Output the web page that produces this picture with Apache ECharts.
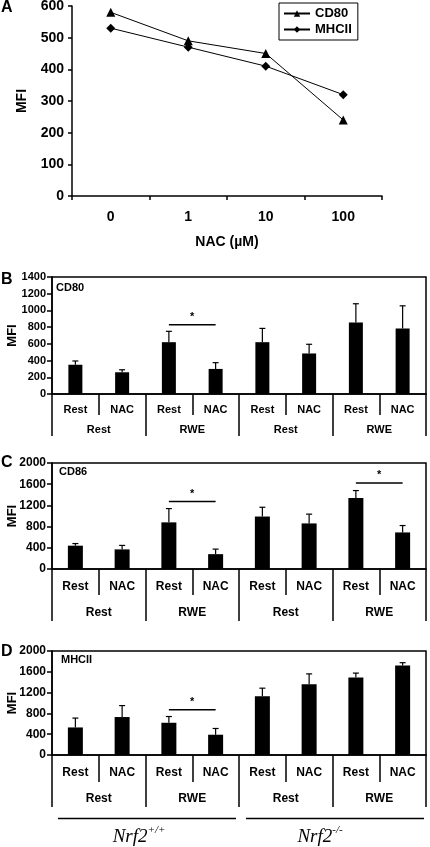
<!DOCTYPE html>
<html><head><meta charset="utf-8">
<script src="https://cdn.jsdelivr.net/npm/echarts@6/dist/echarts.min.js"></script>
<style>html,body{margin:0;padding:0;background:#fff}#c{width:430px;height:847px}</style>
</head><body><div id="c"></div>
<script>
// ---------- Data ----------
const nacDoses = ['0', '1', '10', '100'];
const cd80Dose = [580, 490, 450, 240];
const mhciiDose = [530, 470, 410, 320];

const treatments = ['Rest', 'NAC', 'Rest', 'NAC', 'Rest', 'NAC', 'Rest', 'NAC'];
const stimuli = ['Rest', 'RWE', 'Rest', 'RWE'];
const genotypeBase = ['Nrf2', 'Nrf2'];
const genotypeSup = ['+/+', '-/-'];

const cd80Mean = [350, 260, 620, 300, 620, 485, 855, 785];
const cd80Err = [45, 30, 130, 75, 165, 110, 225, 270];
const cd86Mean = [440, 370, 880, 280, 990, 860, 1340, 690];
const cd86Err = [40, 75, 260, 95, 175, 175, 140, 130];
const mhciiMean = [530, 730, 620, 390, 1130, 1360, 1490, 1720];
const mhciiErr = [180, 220, 120, 120, 155, 200, 85, 55];

// significance brackets: [fromIndex, toIndex, level]
const cd80Sig = [[2, 3, 830]];
const cd86Sig = [[2, 3, 1275], [6, 7, 1625]];
const mhciiSig = [[2, 3, 870]];

// y axis ranges: [min, max, interval]
const yRangeA = [0, 600, 100];
const yRangeB = [0, 1400, 200];
const yRangeC = [0, 2000, 400];
const yRangeD = [0, 2000, 400];

// ---------- Chart ----------
const FONT = 'Liberation Sans, Arial, sans-serif';
const chart = echarts.init(document.getElementById('c'), null, {renderer: 'canvas'});

function errRender(params, api) {
  const x = api.value(0), m = api.value(1), e = api.value(2);
  const p0 = api.coord([x, m]);
  const p1 = api.coord([x, m + e]);
  const cap = 3;
  return {type: 'group', children: [
    {type: 'line', shape: {x1: p0[0], y1: p0[1], x2: p1[0], y2: p1[1]}, style: {stroke: '#000', lineWidth: 1.2}},
    {type: 'line', shape: {x1: p1[0] - cap, y1: p1[1], x2: p1[0] + cap, y2: p1[1]}, style: {stroke: '#000', lineWidth: 1.2}}
  ]};
}
function sigRender(params, api) {
  const a = api.coord([api.value(0), api.value(2)]);
  const b = api.coord([api.value(1), api.value(2)]);
  return {type: 'group', children: [
    {type: 'line', shape: {x1: a[0], y1: a[1], x2: b[0], y2: b[1]}, style: {stroke: '#000', lineWidth: 1.5}},
    {type: 'text', x: (a[0] + b[0]) / 2, y: a[1] - 2, style: {text: '*', font: 'bold 11px ' + FONT, fill: '#000', align: 'center', verticalAlign: 'bottom'}}
  ]};
}

const axisLineStyle = {color: '#000', width: 1.5};
const plain = v => String(v);

function yAxisFor(grid, range, nameGap, labelSize, nameSize, tickLen, margin) {
  return {
    gridIndex: grid, type: 'value', min: range[0], max: range[1], interval: range[2],
    axisLine: {show: true, lineStyle: axisLineStyle},
    axisTick: {show: true, length: tickLen, lineStyle: axisLineStyle},
    axisLabel: {color: '#000', fontFamily: FONT, fontWeight: 'bold', fontSize: labelSize, margin: margin, formatter: plain},
    splitLine: {show: false},
    name: 'MFI', nameLocation: 'middle', nameGap: nameGap, nameMoveOverlap: false,
    nameTextStyle: {color: '#000', fontFamily: FONT, fontWeight: 'bold', fontSize: nameSize}
  };
}
function level1Axis(grid, tickLen, margin, fontSize) {
  return {
    gridIndex: grid, type: 'category', data: treatments, position: 'bottom',
    axisLine: {show: true, lineStyle: axisLineStyle},
    axisTick: {show: true, length: tickLen, interval: 0, lineStyle: axisLineStyle},
    axisLabel: {color: '#000', fontFamily: FONT, fontWeight: 'bold', fontSize: fontSize, margin: margin, interval: 0}
  };
}
function level2Axis(grid, offset, tickLen, margin, fontSize) {
  return {
    gridIndex: grid, type: 'category', data: stimuli, position: 'bottom', offset: offset,
    axisLine: {show: false},
    axisTick: {show: true, length: tickLen, interval: 0, lineStyle: axisLineStyle},
    axisLabel: {color: '#000', fontFamily: FONT, fontWeight: 'bold', fontSize: fontSize, margin: margin, interval: 0}
  };
}
function barSeries(xi, yi, data, w) {
  return {type: 'bar', xAxisIndex: xi, yAxisIndex: yi, data: data, barWidth: w,
    itemStyle: {color: '#000'}, silent: true, z: 2};
}
function errSeries(xi, yi, mean, err) {
  return {type: 'custom', xAxisIndex: xi, yAxisIndex: yi, renderItem: errRender,
    data: mean.map((m, i) => [i, m, err[i]]), encode: {x: 0, y: 1}, z: 3, silent: true};
}
function sigSeries(xi, yi, sig) {
  return {type: 'custom', xAxisIndex: xi, yAxisIndex: yi, renderItem: sigRender,
    data: sig, encode: {x: [0, 1], y: 2}, z: 3, silent: true};
}

const gridBox = {show: true, borderColor: '#000', borderWidth: 1.5, backgroundColor: 'transparent', outerBoundsMode: 'none'};

const option = {
  animation: false,
  backgroundColor: '#fff',
  grid: [
    {left: 72, top: 6, width: 310, height: 190, outerBoundsMode: 'none'},
    Object.assign({left: 52, top: 277, width: 374, height: 117}, gridBox),
    Object.assign({left: 52, top: 463, width: 374, height: 106}, gridBox),
    Object.assign({left: 52, top: 651, width: 374, height: 104}, gridBox)
  ],
  legend: {
    data: ['CD80', 'MHCII'], orient: 'vertical', left: 279, top: 3,
    borderColor: '#000', borderWidth: 1, padding: [4, 6, 4, 4], itemGap: 3,
    itemWidth: 26, itemHeight: 8,
    textStyle: {color: '#000', fontFamily: FONT, fontWeight: 'bold', fontSize: 13}
  },
  xAxis: [
    {gridIndex: 0, type: 'category', data: nacDoses,
      axisLine: {show: true, lineStyle: axisLineStyle},
      axisTick: {show: true, length: 4, lineStyle: axisLineStyle},
      axisLabel: {color: '#000', fontFamily: FONT, fontWeight: 'bold', fontSize: 14, margin: 14},
      name: 'NAC (µM)', nameLocation: 'middle', nameGap: 39,
      nameTextStyle: {color: '#000', fontFamily: FONT, fontWeight: 'bold', fontSize: 14}},
    level1Axis(1, 21, 10, 11),
    level2Axis(1, 21, 21, 9, 11),
    level1Axis(2, 26, 12, 12),
    level2Axis(2, 26, 26, 12, 12),
    level1Axis(3, 27, 12, 12),
    level2Axis(3, 27, 25, 11, 12)
  ],
  yAxis: [
    yAxisFor(0, yRangeA, 43, 14, 14, 4, 8),
    yAxisFor(1, yRangeB, 33, 11, 13, 5, 6),
    yAxisFor(2, yRangeC, 33, 12, 13, 5, 6),
    yAxisFor(3, yRangeD, 33, 12, 13, 5, 6)
  ],
  series: [
    {name: 'CD80', type: 'line', xAxisIndex: 0, yAxisIndex: 0, data: cd80Dose,
      symbol: 'triangle', symbolSize: 9, itemStyle: {color: '#000'}, lineStyle: {color: '#000', width: 1}},
    {name: 'MHCII', type: 'line', xAxisIndex: 0, yAxisIndex: 0, data: mhciiDose,
      symbol: 'diamond', symbolSize: 9, itemStyle: {color: '#000'}, lineStyle: {color: '#000', width: 1}},
    barSeries(1, 1, cd80Mean, 14), errSeries(1, 1, cd80Mean, cd80Err), sigSeries(1, 1, cd80Sig),
    barSeries(3, 2, cd86Mean, 15), errSeries(3, 2, cd86Mean, cd86Err), sigSeries(3, 2, cd86Sig),
    barSeries(5, 3, mhciiMean, 15), errSeries(5, 3, mhciiMean, mhciiErr), sigSeries(5, 3, mhciiSig)
  ],
  graphic: [
    {type: 'text', x: 1, y: 8, style: {text: 'A', font: 'bold 16px ' + FONT, fill: '#000', verticalAlign: 'middle'}},
    {type: 'text', x: 1, y: 280, style: {text: 'B', font: 'bold 16px ' + FONT, fill: '#000', verticalAlign: 'middle'}},
    {type: 'text', x: 1, y: 463, style: {text: 'C', font: 'bold 16px ' + FONT, fill: '#000', verticalAlign: 'middle'}},
    {type: 'text', x: 1, y: 652, style: {text: 'D', font: 'bold 16px ' + FONT, fill: '#000', verticalAlign: 'middle'}},
    {type: 'text', x: 56, y: 288, style: {text: 'CD80', font: 'bold 11px ' + FONT, fill: '#000', verticalAlign: 'middle'}},
    {type: 'text', x: 59, y: 472, style: {text: 'CD86', font: 'bold 11px ' + FONT, fill: '#000', verticalAlign: 'middle'}},
    {type: 'text', x: 61, y: 660, style: {text: 'MHCII', font: 'bold 11px ' + FONT, fill: '#000', verticalAlign: 'middle'}},
    {type: 'line', shape: {x1: 58, y1: 818.5, x2: 236, y2: 818.5}, style: {stroke: '#000', lineWidth: 1.3}},
    {type: 'line', shape: {x1: 246, y1: 818.5, x2: 424, y2: 818.5}, style: {stroke: '#000', lineWidth: 1.3}},
    {type: 'text', x: 139, y: 837, style: {
      text: '{b|' + genotypeBase[0] + '}{s|' + genotypeSup[0] + '}', align: 'center', verticalAlign: 'middle',
      rich: {b: {font: 'italic 19px Liberation Serif', fill: '#000', lineHeight: 24},
             s: {font: 'italic 11px Liberation Serif', fill: '#000', verticalAlign: 'top', lineHeight: 24, padding: [0, 0, 10, 0]}}}},
    {type: 'text', x: 320, y: 837, style: {
      text: '{b|' + genotypeBase[1] + '}{s|' + genotypeSup[1] + '}', align: 'center', verticalAlign: 'middle',
      rich: {b: {font: 'italic 19px Liberation Serif', fill: '#000', lineHeight: 24},
             s: {font: 'italic 11px Liberation Serif', fill: '#000', verticalAlign: 'top', lineHeight: 24, padding: [0, 0, 10, 0]}}}}
  ]
};
chart.setOption(option);
</script>
</body></html>
